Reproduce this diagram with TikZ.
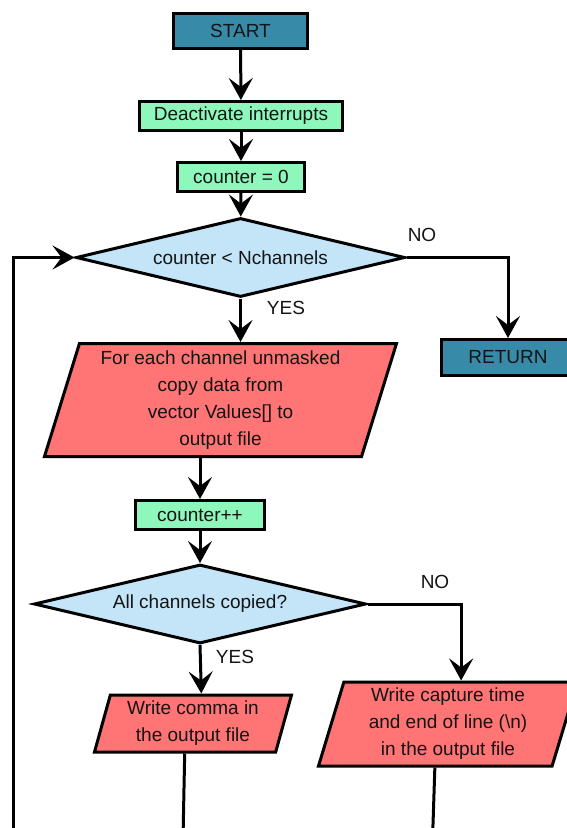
\documentclass[tikz,border=0pt]{standalone}
\usepackage{fontspec}
\setmainfont{Liberation Sans}
\usetikzlibrary{shapes.geometric,arrows.meta}

\definecolor{termfill}{RGB}{56,139,168}
\definecolor{procfill}{RGB}{142,248,188}
\definecolor{decfill}{RGB}{196,228,248}
\definecolor{iofill}{RGB}{255,116,116}
\definecolor{inkdark}{RGB}{20,20,20}

\tikzset{
  base/.style={draw=black, line width=3pt, inner sep=0pt, text=inkdark,
    font=\fontsize{19}{27}\selectfont, align=center},
  terminal/.style={base, rectangle, fill=termfill},
  process/.style={base, rectangle, fill=procfill},
  decision/.style={base, diamond, aspect=4.1, fill=decfill},
  io/.style={base, trapezium, trapezium left angle=70.5, trapezium right angle=109.5,
    trapezium stretches body, fill=iofill},
  flow/.style={line width=3pt, -{Stealth[length=22pt, width=24pt, inset=9pt]}},
  plain/.style={line width=3pt},
  tag/.style={text=inkdark, font=\fontsize{19}{27}\selectfont, inner sep=0pt}
}

\begin{document}
\begin{tikzpicture}[x=1pt, y=-1pt]
  \useasboundingbox (0,0) rectangle (567,828);
  \clip (0,0) rectangle (567,828);

  % main column
  \node[terminal, minimum width=134pt, minimum height=35pt] (start) at (240.5,31) {START};
  \node[process, minimum width=203pt, minimum height=29pt] (deact) at (241,116) {Deactivate interrupts};
  \node[process, minimum width=127pt, minimum height=29pt] (zero) at (241,177) {counter = 0};
  \node[decision, minimum width=329pt, minimum height=79pt] (cmp) at (240.5,257.5) {counter < Nchannels};
  \node[terminal, minimum width=134pt, minimum height=36pt] (ret) at (508,357.5) {RETURN};
  \node[io, minimum width=352pt, minimum height=113pt] (copy) at (220.5,400)
    {For each channel unmasked\\copy data from\\vector Values[] to\\output file};
  \node[process, minimum width=129pt, minimum height=29pt] (inc) at (200,515) {counter++};
  \node[decision, minimum width=332pt, minimum height=79pt] (all) at (200,604) {All channels copied?};
  \node[io, minimum width=197pt, minimum height=57pt] (comma) at (193,723.5)
    {Write comma in\\the output file};
  \node[io, minimum width=259pt, minimum height=84pt] (eol) at (448,724)
    {Write capture time\\and end of line (\textbackslash n)\\in the output file};

  % branch labels
  \node[tag] (no1) at (422,235) {NO};
  \node[tag] (yes1) at (286,308) {YES};
  \node[tag] (no2) at (435,582) {NO};
  \node[tag] (yes2) at (235,657) {YES};

  % free ends running off the lower edge
  \coordinate (loopfoot) at (13.5,840);
  \coordinate (commafoot) at (183,840);
  \coordinate (eolfoot) at (432.5,840);

  % connectors
  \draw[flow] (start) -- (deact);
  \draw[flow] (deact) -- (zero);
  \draw[flow] (zero) -- (cmp);
  \draw[flow] (cmp.east) -| (ret.north);
  \draw[flow] (cmp.south) -- (cmp.south |- copy.top side);
  \draw[flow] (inc.north |- copy.bottom side) -- (inc.north);
  \draw[flow] (inc) -- (all);
  \draw[flow] (all.south) -- (comma.top side);
  \draw[flow] (all.east) -| (eol.top side);
  \draw[flow] (loopfoot) |- (cmp.west);
  \draw[plain] (comma.bottom side) -- (commafoot);
  \draw[plain] (eol.bottom side) -- (eolfoot);
\end{tikzpicture}
\end{document}
